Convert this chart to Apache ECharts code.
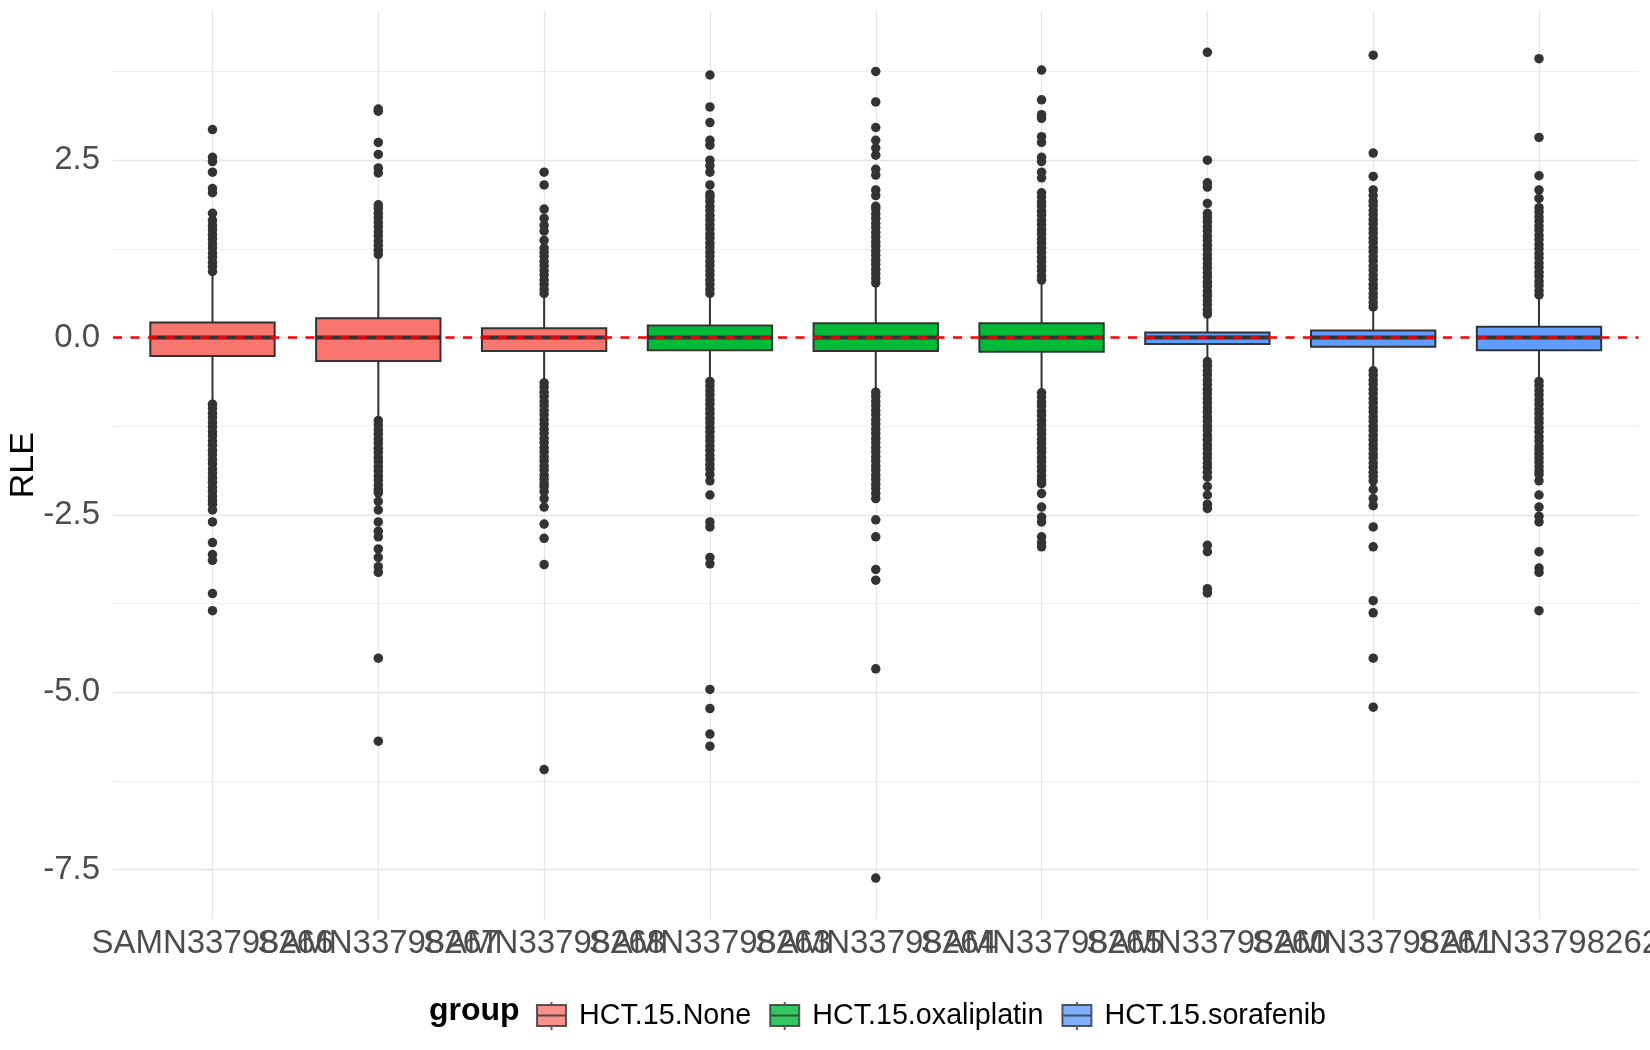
<!DOCTYPE html>
<html lang="en">
<head>
<meta charset="UTF-8">
<title>RLE</title>
<script src="https://cdn.jsdelivr.net/npm/echarts@6/dist/echarts.min.js"></script>
<style>
    html, body { margin: 0; padding: 0; background: #fff; }
    #main { width: 1650px; height: 1050px; }
</style>
</head>
<body>
<div id="main"></div>
<script>
    // samples in plotting order and their treatment group
    var samples = ['SAMN33798266', 'SAMN33798267', 'SAMN33798268',
                   'SAMN33798263', 'SAMN33798264', 'SAMN33798265',
                   'SAMN33798260', 'SAMN33798261', 'SAMN33798262'];
    var groups = ['HCT.15.None', 'HCT.15.oxaliplatin', 'HCT.15.sorafenib'];
    var sampleGroup = [0, 0, 0, 1, 1, 1, 2, 2, 2];

    // box statistics
    var medians     = [0, 0, 0, 0, 0, 0, 0, 0, 0];
    var q1          = [-0.26, -0.33, -0.19, -0.18, -0.19, -0.20, -0.09, -0.13, -0.18];
    var q3          = [0.21, 0.27, 0.13, 0.17, 0.20, 0.20, 0.07, 0.10, 0.15];
    var whiskerLow  = [-0.92, -1.15, -0.62, -0.60, -0.75, -0.76, -0.32, -0.45, -0.60];
    var whiskerHigh = [0.88, 1.14, 0.59, 0.60, 0.75, 0.79, 0.31, 0.41, 0.58];

    // outliers per sample
    var outliers = [
        [0.93, 1.00, 1.06, 1.13, 1.19, 1.26, 1.32, 1.39, 1.45, 1.52, 1.58, 1.65, 1.75, 2.04, 2.10, 2.33, 2.48, 2.54, 2.93,
         -0.94, -1.00, -1.07, -1.13, -1.20, -1.26, -1.33, -1.39, -1.46, -1.52, -1.59, -1.65, -1.72, -1.78, -1.85, -1.91,
         -1.98, -2.04, -2.11, -2.17, -2.24, -2.30, -2.35, -2.43, -2.60, -2.89, -3.06, -3.14, -3.61, -3.85],
        [1.17, 1.23, 1.30, 1.36, 1.43, 1.49, 1.56, 1.62, 1.69, 1.75, 1.82, 1.87, 2.32, 2.39, 2.58, 2.75, 3.19, 3.22,
         -1.17, -1.23, -1.30, -1.36, -1.43, -1.49, -1.56, -1.62, -1.69, -1.75, -1.82, -1.88, -1.95, -2.01, -2.08, -2.14,
         -2.19, -2.31, -2.43, -2.60, -2.73, -2.81, -2.98, -3.10, -3.23, -3.31, -4.52, -5.69],
        [0.62, 0.68, 0.75, 0.81, 0.88, 0.94, 1.01, 1.07, 1.14, 1.20, 1.26, 1.37, 1.50, 1.58, 1.68, 1.81, 2.15, 2.33,
         -0.64, -0.70, -0.77, -0.83, -0.90, -0.96, -1.03, -1.09, -1.16, -1.22, -1.29, -1.35, -1.42, -1.48, -1.55, -1.61,
         -1.68, -1.74, -1.81, -1.87, -1.94, -2.00, -2.06, -2.10, -2.17, -2.27, -2.39, -2.63, -2.83, -3.20, -6.09],
        [0.62, 0.68, 0.75, 0.81, 0.88, 0.94, 1.01, 1.07, 1.14, 1.20, 1.27, 1.33, 1.40, 1.46, 1.53, 1.59, 1.66, 1.72, 1.79,
         1.85, 1.92, 1.98, 2.02, 2.15, 2.33, 2.42, 2.50, 2.71, 2.78, 3.03, 3.25, 3.70,
         -0.62, -0.68, -0.75, -0.81, -0.88, -0.94, -1.01, -1.07, -1.14, -1.20, -1.27, -1.33, -1.40, -1.46, -1.53, -1.59,
         -1.66, -1.72, -1.79, -1.85, -1.93, -2.02, -2.22, -2.60, -2.67, -3.10, -3.19, -4.96, -5.23, -5.59, -5.76],
        [0.77, 0.83, 0.90, 0.96, 1.03, 1.09, 1.16, 1.22, 1.29, 1.35, 1.42, 1.48, 1.55, 1.61, 1.68, 1.74, 1.81, 1.85,
         2.00, 2.08, 2.29, 2.37, 2.57, 2.67, 2.78, 2.96, 3.32, 3.75,
         -0.77, -0.83, -0.90, -0.96, -1.03, -1.09, -1.16, -1.22, -1.29, -1.35, -1.42, -1.48, -1.55, -1.61, -1.68, -1.74,
         -1.81, -1.87, -1.94, -2.00, -2.07, -2.13, -2.20, -2.27, -2.57, -2.81, -3.27, -3.42, -4.67, -7.62],
        [0.81, 0.87, 0.94, 1.00, 1.07, 1.13, 1.20, 1.26, 1.33, 1.39, 1.46, 1.52, 1.59, 1.65, 1.72, 1.78, 1.85, 1.91, 1.98,
         2.04, 2.25, 2.33, 2.48, 2.54, 2.75, 2.83, 3.09, 3.14, 3.35, 3.77,
         -0.78, -0.84, -0.91, -0.97, -1.04, -1.10, -1.17, -1.23, -1.30, -1.36, -1.43, -1.49, -1.56, -1.62, -1.69, -1.75,
         -1.82, -1.88, -1.95, -2.01, -2.06, -2.20, -2.39, -2.53, -2.60, -2.81, -2.89, -2.95],
        [0.33, 0.39, 0.46, 0.52, 0.59, 0.65, 0.72, 0.78, 0.85, 0.91, 0.98, 1.04, 1.11, 1.17, 1.24, 1.30, 1.37, 1.43, 1.50,
         1.56, 1.63, 1.69, 1.75, 1.89, 2.12, 2.18, 2.50, 4.02,
         -0.34, -0.40, -0.47, -0.53, -0.60, -0.66, -0.73, -0.79, -0.86, -0.92, -0.99, -1.05, -1.12, -1.18, -1.25, -1.31,
         -1.38, -1.44, -1.51, -1.57, -1.64, -1.70, -1.77, -1.83, -1.90, -1.97, -2.10, -2.22, -2.35, -2.41, -2.93, -3.02,
         -3.54, -3.60],
        [0.43, 0.49, 0.56, 0.62, 0.69, 0.75, 0.82, 0.88, 0.95, 1.01, 1.08, 1.14, 1.21, 1.27, 1.34, 1.40, 1.47, 1.53, 1.60,
         1.66, 1.73, 1.79, 1.86, 1.92, 2.00, 2.08, 2.27, 2.60, 3.98,
         -0.47, -0.53, -0.60, -0.66, -0.73, -0.79, -0.86, -0.92, -0.99, -1.05, -1.12, -1.18, -1.25, -1.31, -1.38, -1.44,
         -1.51, -1.57, -1.64, -1.70, -1.77, -1.83, -1.90, -1.96, -2.02, -2.14, -2.27, -2.37, -2.67, -2.95, -3.71, -3.88,
         -4.52, -5.21],
        [0.60, 0.66, 0.73, 0.79, 0.86, 0.92, 0.99, 1.05, 1.12, 1.18, 1.25, 1.31, 1.38, 1.44, 1.51, 1.57, 1.64, 1.70, 1.77,
         1.83, 1.96, 2.08, 2.28, 2.82, 3.93,
         -0.62, -0.68, -0.75, -0.81, -0.88, -0.94, -1.01, -1.07, -1.14, -1.20, -1.27, -1.33, -1.40, -1.46, -1.53, -1.58,
         -1.64, -1.70, -1.76, -1.82, -1.88, -1.93, -2.02, -2.22, -2.39, -2.52, -2.60, -3.02, -3.25, -3.31, -3.85]
    ];

    // axis breaks
    var yBreaks = [-7.5, -5, -2.5, 0, 2.5];
    var yMinorBreaks = [-6.25, -3.75, -1.25, 1.25, 3.75];
    var refLine = 0;

    var fills = ['#F8766D', '#00BA38', '#619CFF'];
    var ink = '#333333';
    var font = 'Liberation Sans, Arial, Helvetica, sans-serif';
    var grid = '#E6E6E6';

    // panel: discrete axis padded by 0.6 of a band on each side (as ggplot does)
    var panelLeft = 113, panelRight = 11.5, panelTop = 11, panelBottom = 130.6;
    var band = (1650 - panelLeft - panelRight) / (samples.length - 1 + 1.2);
    var pad = 0.1 * band;

    var xIdx = samples.map(function (s, i) { return i; });
    var boxData = samples.map(function (s, i) {
        return [i, whiskerLow[i], q1[i], medians[i], q3[i], whiskerHigh[i], sampleGroup[i]];
    });
    var pointData = [];
    outliers.forEach(function (vals, i) {
        vals.forEach(function (v) { pointData.push([i, v]); });
    });

    function renderBox(params, api) {
        var x = api.value(0);
        var lo = api.coord([x, api.value(1)]);
        var b1 = api.coord([x, api.value(2)]);
        var md = api.coord([x, api.value(3)]);
        var b3 = api.coord([x, api.value(4)]);
        var hi = api.coord([x, api.value(5)]);
        var w = api.size([0.75, 0])[0];
        var cx = md[0];
        return {
            type: 'group',
            children: [
                {type: 'line', shape: {x1: cx, y1: hi[1], x2: cx, y2: b3[1]}, style: {stroke: ink, lineWidth: 2}},
                {type: 'line', shape: {x1: cx, y1: b1[1], x2: cx, y2: lo[1]}, style: {stroke: ink, lineWidth: 2}},
                {type: 'rect', shape: {x: cx - w / 2, y: b3[1], width: w, height: b1[1] - b3[1]},
                    style: {fill: fills[api.value(6)], stroke: ink, lineWidth: 2}},
                {type: 'line', shape: {x1: cx - w / 2, y1: md[1], x2: cx + w / 2, y2: md[1]},
                    style: {stroke: ink, lineWidth: 4}}
            ]
        };
    }

    var keyPath = 'path://M14.5,0V3M0,3H29V24H0ZM0,13.5H29M14.5,24V28';

    var series = [{
        type: 'custom',
        z: 2,
        renderItem: renderBox,
        encode: {x: 0, y: [1, 2, 3, 4, 5]},
        data: boxData,
        silent: true
    }, {
        type: 'scatter',
        z: 5,
        symbolSize: 9.5,
        itemStyle: {color: ink, opacity: 1},
        data: pointData,
        silent: true,
        markLine: {
            silent: true,
            symbol: 'none',
            label: {show: false},
            lineStyle: {color: '#FF0000', type: [9, 8.5], width: 2.5},
            data: [{yAxis: refLine}]
        }
    }];
    groups.forEach(function (g, k) {
        series.push({
            type: 'scatter', name: g, data: [],
            itemStyle: {color: fills[k], borderColor: ink, borderWidth: 2}
        });
    });

    var option = {
        animation: false,
        backgroundColor: '#ffffff',
        textStyle: {fontFamily: font},
        grid: [
            {left: panelLeft, right: panelRight, top: panelTop, bottom: panelBottom,
                containLabel: false, outerBoundsMode: 'none'},
            // inner grid only carries the sample labels
            {left: panelLeft + pad, right: panelRight + pad, top: panelTop, bottom: panelBottom,
                containLabel: false, outerBoundsMode: 'none'}
        ],
        xAxis: [{
            type: 'value', min: -0.6, max: 8.6, gridIndex: 0,
            axisLine: {show: false},
            axisTick: {show: true, customValues: xIdx, length: 6, lineStyle: {color: '#D9D9D9', width: 1.2}},
            axisLabel: {show: false},
            splitLine: {show: true, lineStyle: {color: grid, width: 1.3}}
        }, {
            type: 'category', gridIndex: 1, data: samples,
            axisLine: {show: false},
            axisTick: {show: false},
            splitLine: {show: false},
            axisLabel: {interval: 0, margin: 8, fontSize: 33, color: '#4D4D4D', fontFamily: font, hideOverlap: false}
        }],
        yAxis: [{
            type: 'value', min: -8.202, max: 4.602, gridIndex: 0,
            name: 'RLE', nameLocation: 'middle', nameGap: 72, nameRotate: 90, nameMoveOverlap: false,
            nameTextStyle: {fontSize: 34, color: '#000000', fontFamily: font},
            axisLine: {show: false},
            axisTick: {show: true, customValues: yBreaks, length: 6, lineStyle: {color: '#D9D9D9', width: 1.2}},
            axisLabel: {
                customValues: yBreaks, margin: 13, fontSize: 33, color: '#4D4D4D', fontFamily: font,
                formatter: function (v) { return v.toFixed(1); }
            },
            splitLine: {show: true, lineStyle: {color: grid, width: 1.3}}
        }, {
            type: 'value', min: -8.202, max: 4.602, gridIndex: 0,
            axisLine: {show: false},
            axisTick: {show: false, customValues: yMinorBreaks},
            axisLabel: {show: false, customValues: yMinorBreaks},
            splitLine: {show: true, lineStyle: {color: '#F0F0F0', width: 1}}
        }, {
            type: 'value', gridIndex: 1, show: false, min: -8.202, max: 4.602,
            splitLine: {show: false}
        }],
        legend: {
            left: 531, top: 996,
            itemWidth: 29, itemHeight: 28, itemGap: 18,
            selectedMode: false,
            itemStyle: {borderColor: ink, borderWidth: 2},
            textStyle: {fontSize: 28.7, color: '#000000', fontFamily: font, padding: [0, 0, 0, 8]},
            data: groups.map(function (g) { return {name: g, icon: keyPath}; })
        },
        graphic: [{
            type: 'text', left: 429, top: 995,
            style: {text: 'group', font: 'bold 32px ' + font, fill: '#000000'}
        }],
        series: series
    };

    var myChart = echarts.init(document.getElementById('main'));
    myChart.setOption(option);
</script>
</body>
</html>
